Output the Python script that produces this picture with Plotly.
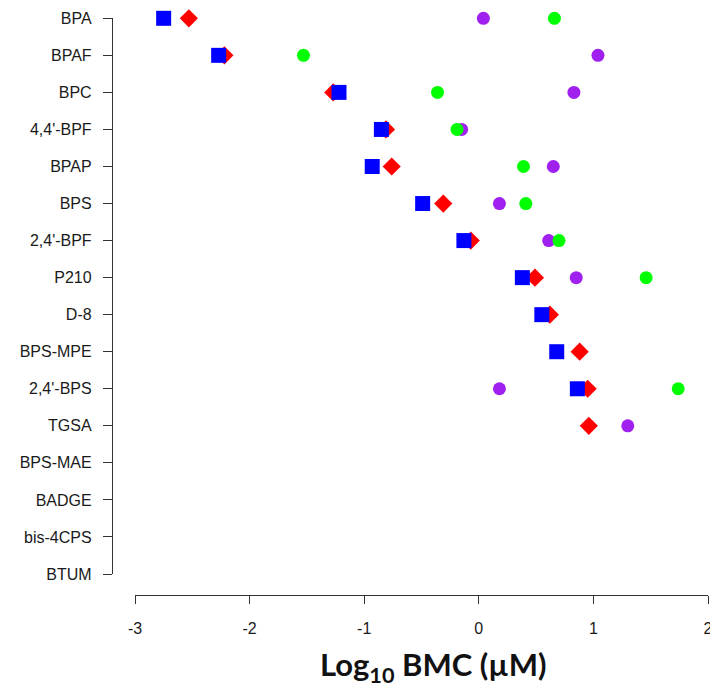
import plotly.graph_objects as go

# Compounds, top to bottom
compounds = ["BPA", "BPAF", "BPC", "4,4'-BPF", "BPAP", "BPS", "2,4'-BPF", "P210",
             "D-8", "BPS-MPE", "2,4'-BPS", "TGSA", "BPS-MAE", "BADGE", "bis-4CPS", "BTUM"]

# Log10 BMC (uM) per endpoint; None = no BMC
bmc_blue = [-2.75, -2.27, -1.22, -0.85, -0.93, -0.49, -0.13, 0.38, 0.55, 0.68, 0.86, None,
            None, None, None, None]
bmc_red = [-2.53, -2.22, -1.27, -0.81, -0.76, -0.31, -0.07, 0.49, 0.62, 0.88, 0.95, 0.96,
           None, None, None, None]
bmc_green = [0.66, -1.53, -0.36, -0.19, 0.39, 0.41, 0.70, 1.46, None, None, 1.74, None,
             None, None, None, None]
bmc_purple = [0.04, 1.04, 0.83, -0.15, 0.65, 0.18, 0.61, 0.85, None, None, 0.18, 1.30,
              None, None, None, None]

x_ticks = [-3, -2, -1, 0, 1, 2]

W, H = 710, 691
PW = 708  # plot paper width (right margin 2)

fig = go.Figure()

series = [
    (bmc_purple, "circle", "#A020F0", 13),
    (bmc_green, "circle", "#00FF00", 13),
    (bmc_red, "diamond", "#FF0000", 14),
    (bmc_blue, "square", "#0000FF", 15),
]
for vals, sym, col, size in series:
    xs = [v for v in vals if v is not None]
    ys = [c for c, v in zip(compounds, vals) if v is not None]
    fig.add_trace(go.Scatter(
        x=xs, y=ys, mode="markers", cliponaxis=False, showlegend=False,
        marker=dict(symbol=sym, color=col, size=size, line=dict(width=0)),
    ))

axis_color = "#333333"
tick_font = dict(family="Liberation Sans, Arial", size=16, color="#1a1a1a")
fig.update_layout(
    width=W, height=H,
    margin=dict(l=0, r=W - PW, t=0, b=0),
    plot_bgcolor="white", paper_bgcolor="white",
    xaxis=dict(
        domain=[135 / PW, 1.0], range=[-3, 2],
        tickvals=x_ticks, ticktext=[str(t) for t in x_ticks],
        anchor="free", position=(H - 595) / H,
        showline=True, linecolor=axis_color, linewidth=1.3,
        ticks="outside", ticklen=8, tickwidth=1.3, tickcolor=axis_color,
        ticklabelstandoff=11, ticklabeloverflow="allow",
        showgrid=False, zeroline=False, automargin=False,
        tickfont=tick_font,
    ),
    yaxis=dict(
        type="category", categoryorder="array", categoryarray=compounds,
        domain=[(H - 574) / H, (H - 18.3) / H], range=[15, 0],
        anchor="free", position=112 / PW,
        showline=True, linecolor=axis_color, linewidth=1.3,
        ticks="outside", ticklen=9, tickwidth=1.3, tickcolor=axis_color,
        ticklabelstandoff=8, ticklabeloverflow="allow",
        showgrid=False, zeroline=False, automargin=False,
        tickfont=tick_font,
    ),
    annotations=[dict(
        text="Log<sub>10</sub> BMC (µM)", xref="paper", yref="paper",
        x=434 / PW, y=(H - 666) / H, xanchor="center", yanchor="middle",
        showarrow=False,
        font=dict(family="Lato", size=31, color="#111111", weight="bold"),
    )],
)

fig.write_html("out.html")
